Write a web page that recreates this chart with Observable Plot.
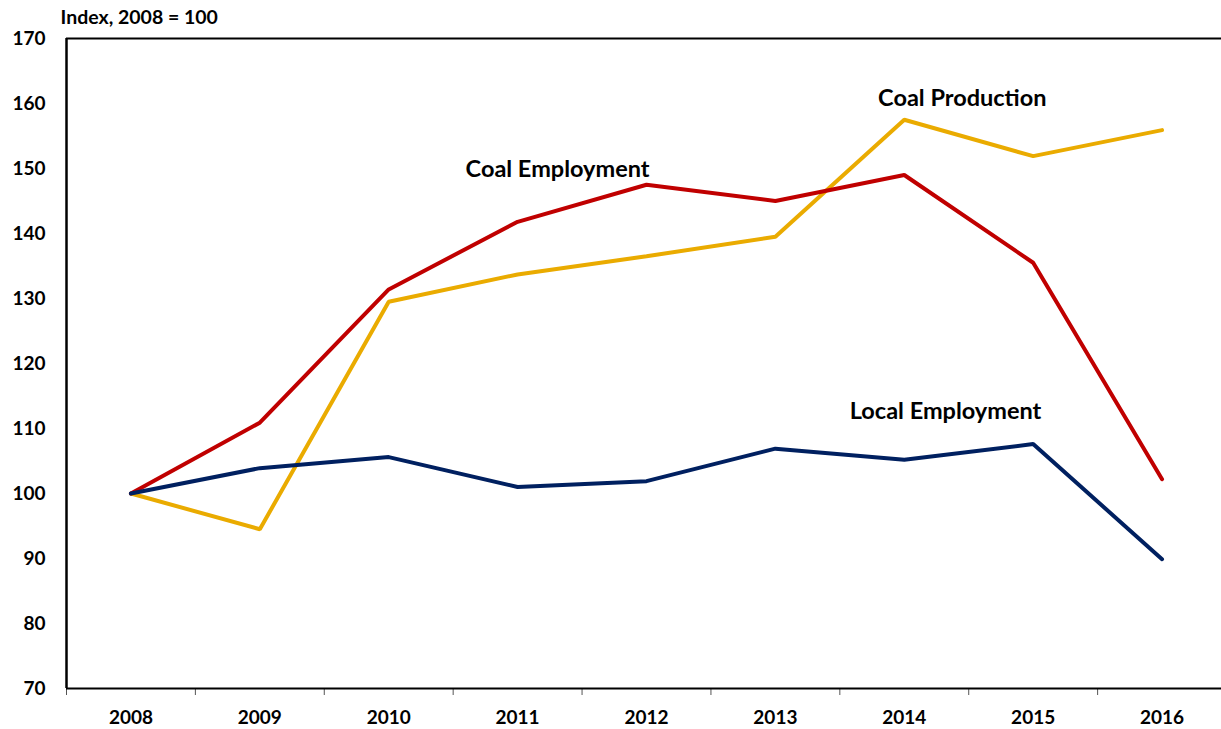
<!DOCTYPE html>
<html><head><meta charset="utf-8">
<script src="https://cdn.jsdelivr.net/npm/d3@7"></script>
<script src="https://cdn.jsdelivr.net/npm/@observablehq/plot@0.6"></script>
<style>body{margin:0;background:#fff;overflow:hidden}</style>
</head><body><div id="chart"></div>
<script>
const years = [2008, 2009, 2010, 2011, 2012, 2013, 2014, 2015, 2016];
const coalProduction = [100, 94.5, 129.5, 133.7, 136.5, 139.5, 157.5, 151.9, 155.9];
const coalEmployment = [100, 110.9, 131.4, 141.8, 147.5, 145.0, 149.0, 135.5, 102.2];
const localEmployment = [100, 103.9, 105.6, 101.0, 101.9, 106.9, 105.2, 107.6, 89.9];
const seriesNames = ["Coal Production", "Coal Employment", "Local Employment"];
const seriesColors = ["#EAAB00", "#C00000", "#002060"];
const yTicks = [70, 80, 90, 100, 110, 120, 130, 140, 150, 160, 170];
const yTitle = "Index, 2008 = 100";
const labelYears = [2014.45, 2011.31, 2014.32];
const labelValues = [160.8, 149.9, 112.6];

const seriesValues = [coalProduction, coalEmployment, localEmployment];
const data = seriesNames.flatMap((name, i) => years.map((yr, j) => ({series: name, year: yr, value: seriesValues[i][j]})));
const labels = seriesNames.map((name, i) => ({series: name, year: labelYears[i], value: labelValues[i]}));
const boundaries = d3.range(years[0] - 0.5, years[years.length - 1] + 1, 1);
const font = "Lato, 'Open Sans', sans-serif";

const chart = Plot.plot({
  width: 1221,
  height: 729,
  marginTop: 38,
  marginBottom: 41,
  marginLeft: 66,
  marginRight: 0,
  style: {fontFamily: font, fontWeight: "bold", background: "#fff", overflow: "visible"},
  x: {type: "linear", domain: [years[0] - 0.5, years[years.length - 1] + 0.5], range: [66, 1226]},
  y: {domain: [70, 170], range: [688, 38]},
  color: {domain: seriesNames, range: seriesColors},
  marks: [
    Plot.axisY({ticks: yTicks, tickSize: 7, tickPadding: 14, fontSize: 19, fontWeight: "bold", fill: "#000", stroke: null, tickFormat: d => d, label: null}),
    Plot.axisX({ticks: boundaries, tickSize: 7, tickFormat: () => "", label: null, stroke: "#555"}),
    Plot.axisX({ticks: years, tickSize: 0, tickPadding: 22, fontSize: 19, fontWeight: "bold", tickFormat: d => String(d), label: null}),
    Plot.ruleY([70], {stroke: "#000", strokeWidth: 2}),
    Plot.ruleY([170], {stroke: "#000", strokeWidth: 2}),
    Plot.ruleX([years[0] - 0.5], {stroke: "#000", strokeWidth: 2.5}),
    Plot.line(data, {x: "year", y: "value", z: "series", stroke: "series", strokeWidth: 4, strokeLinejoin: "miter", strokeLinecap: "round"}),
    Plot.text(labels, {x: "year", y: "value", text: "series", fontSize: 23.5, fontWeight: "bold", fill: "#000"}),
    Plot.text([yTitle], {frameAnchor: "top-left", dx: -6, dy: -28, fontSize: 19.5, fontWeight: "bold", fill: "#000", textAnchor: "start"})
  ]
});
document.getElementById("chart").appendChild(chart);
</script>
</body></html>
